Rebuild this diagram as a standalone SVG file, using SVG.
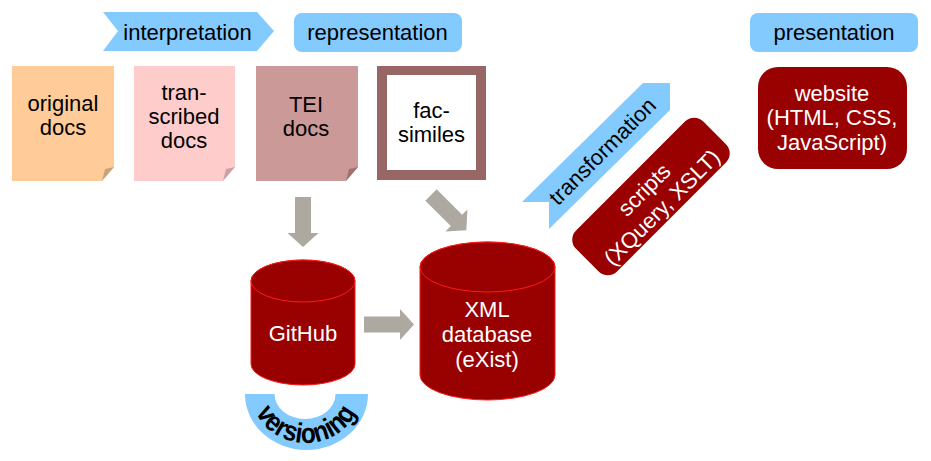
<svg xmlns="http://www.w3.org/2000/svg" width="931" height="461" viewBox="0 0 931 461">
<style>
text{font-family:"Liberation Sans",Arial,sans-serif;font-size:22px;text-anchor:middle}
.dk{fill:#000}
.wt{fill:#fff}
.blue{fill:#83caff}
.red{fill:#990000}
.cyl{fill:#990000;stroke:#ff1a1a;stroke-width:1}
.arrow{fill:#ada9a1}
</style>
<defs>
<path id="arr" d="M-8,0 H8 V36 H15.5 L0,50 L-15.5,36 H-8 Z"/>
<path id="verpath" d="M252,394 A54,49 0 0 0 360,394"/>
</defs>

<g id="interpretation">
<polygon class="blue" points="103,12 257,12 274,31 257,51 103,51 118,31"/>
<text class="dk" x="187.5" y="40">interpretation</text>
</g>
<g id="representation">
<rect class="blue" x="294" y="13" width="168" height="39" rx="8"/>
<text class="dk" x="377.5" y="40">representation</text>
</g>
<g id="presentation">
<rect class="blue" x="750" y="13" width="168" height="39" rx="8"/>
<text class="dk" x="834" y="40">presentation</text>
</g>

<g id="original-docs">
<path fill="#ffcc99" d="M12,66 H114 V167 L102,181 H12 Z"/>
<path fill="#c9a27c" d="M102,181 L114,167 L105,169 Z"/>
<text class="dk" x="63" y="111">original</text>
<text class="dk" x="63" y="135">docs</text>
</g>
<g id="transcribed-docs">
<path fill="#ffcccc" d="M134,66 H235 V167 L223,181 H134 Z"/>
<path fill="#c9a2a2" d="M223,181 L235,167 L226,169 Z"/>
<text class="dk" x="184" y="99.5">tran-</text>
<text class="dk" x="184" y="123.5">scribed</text>
<text class="dk" x="184" y="147.5">docs</text>
</g>
<g id="tei-docs">
<path fill="#cc9999" d="M256,66 H358 V167 L346,181 H256 Z"/>
<path fill="#9f7272" d="M346,181 L358,167 L349,169 Z"/>
<text class="dk" x="306" y="111.5">TEI</text>
<text class="dk" x="306" y="135.5">docs</text>
</g>
<g id="facsimiles">
<rect fill="#996666" x="377" y="66" width="109" height="114"/>
<rect fill="#fff" x="387" y="75" width="89" height="95"/>
<text class="dk" x="431.5" y="118">fac-</text>
<text class="dk" x="431.5" y="142">similes</text>
</g>

<g id="connectors">
<use href="#arr" class="arrow" transform="translate(303,197)"/>
<use href="#arr" class="arrow" transform="translate(431,195) rotate(-45)"/>
<use href="#arr" class="arrow" transform="translate(364,324.5) rotate(-90)"/>
</g>

<g id="github">
<path class="cyl" d="M251,281 V364 A52,21 0 0 0 355,364 V281 A52,21 0 0 0 251,281 Z"/>
<ellipse class="cyl" cx="303" cy="281" rx="52" ry="21"/>
<text class="wt" x="303" y="341">GitHub</text>
</g>
<g id="versioning">
<path class="blue" d="M245,394 A61.5,56 0 0 0 368,394 L335.5,394 A30.5,25 0 0 1 274.5,394 Z"/>
<text class="dk" style="font-weight:bold;font-size:28px"><textPath href="#verpath" startOffset="50%" textLength="124" lengthAdjust="spacingAndGlyphs">versioning</textPath></text>
</g>

<g id="xml-database">
<path class="cyl" d="M420,267 V375 A67.5,25 0 0 0 555,375 V267 A67.5,25 0 0 0 420,267 Z"/>
<ellipse class="cyl" cx="487.5" cy="267" rx="67.5" ry="25"/>
<text class="wt" x="487" y="317">XML</text>
<text class="wt" x="487" y="342">database</text>
<text class="wt" x="487" y="367">(eXist)</text>
</g>

<g id="transformation">
<polygon class="blue" points="643,83 670,83 670,110 549,229 549,202 522,202"/>
<text class="dk" transform="translate(602,151) rotate(-45)" y="8">transformation</text>
</g>

<g id="scripts">
<g transform="translate(651,196.5) rotate(-45)">
<rect class="red" x="-90" y="-29" width="180" height="58" rx="13"/>
<text class="wt" y="-2">scripts</text>
<text class="wt" y="23">(XQuery, XSLT)</text>
</g>
</g>

<g id="website">
<rect class="red" x="758" y="67" width="149" height="102" rx="20"/>
<text class="wt" x="832" y="100.5">website</text>
<text class="wt" x="832" y="125">(HTML, CSS,</text>
<text class="wt" x="832" y="150">JavaScript)</text>
</g>
</svg>
